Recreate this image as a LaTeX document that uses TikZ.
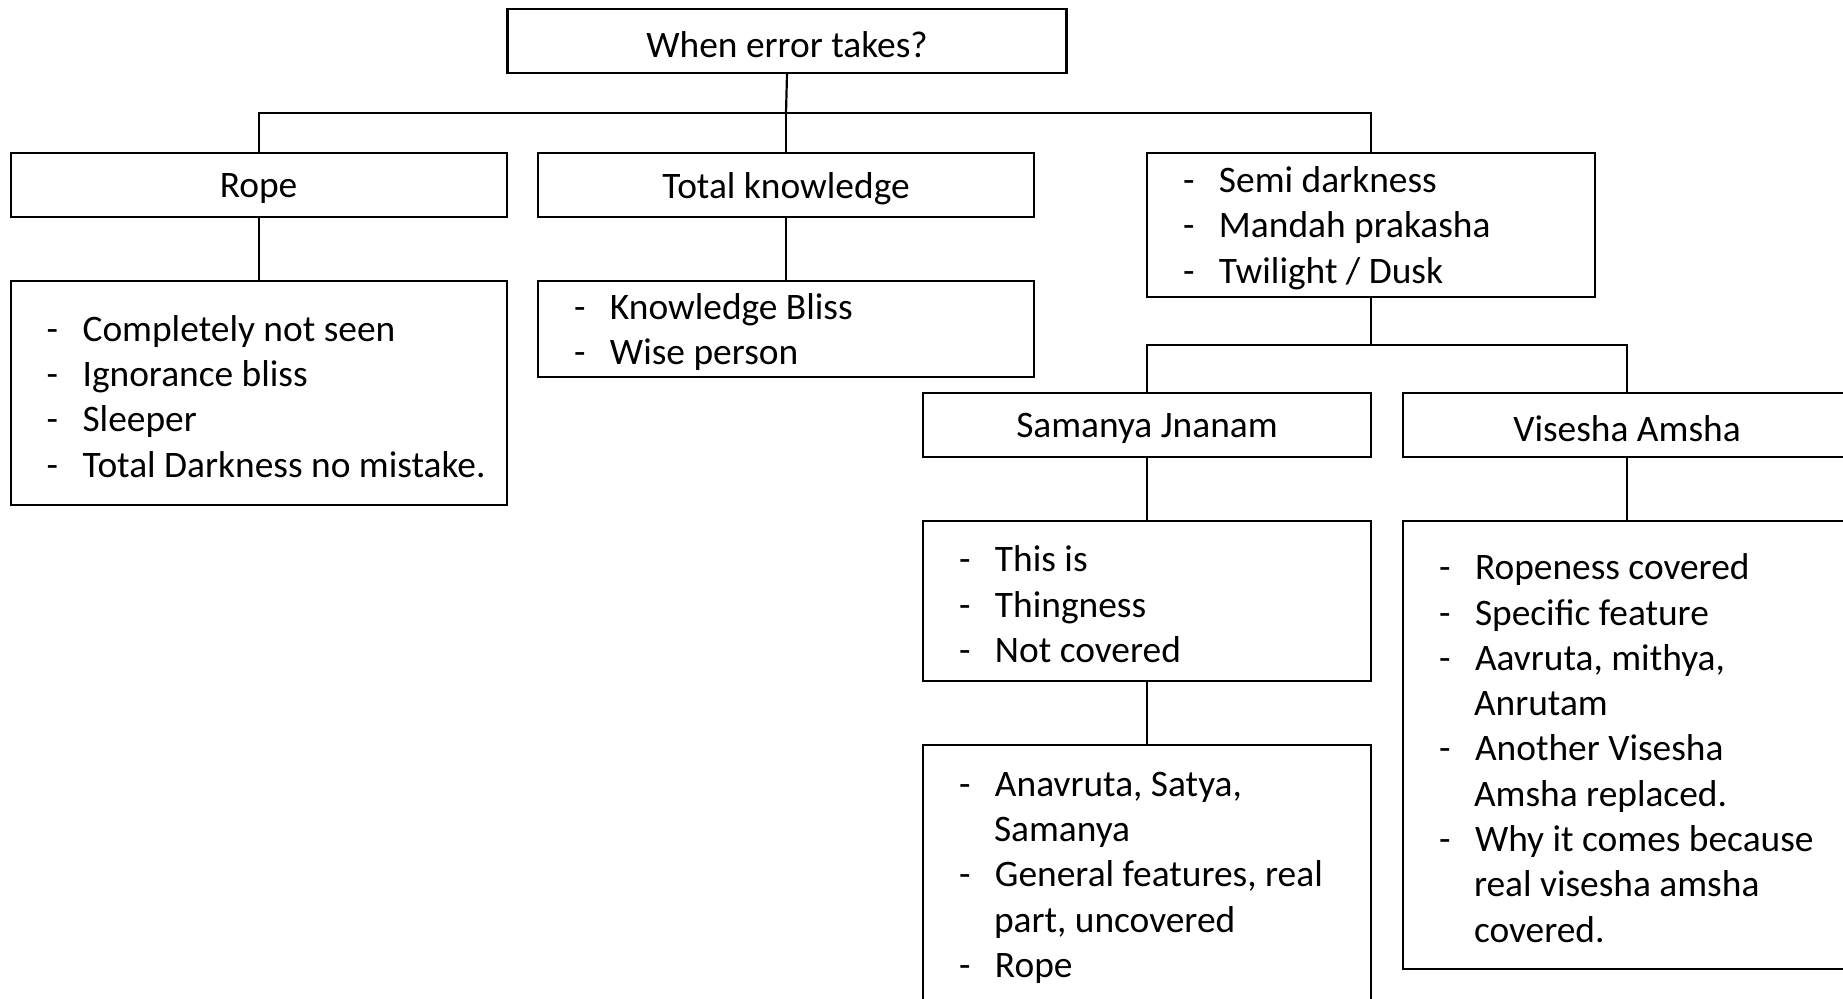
\documentclass[tikz,border=0pt]{standalone}
\usepackage{fontspec}
\setmainfont{Carlito}
\newcommand{\bodyfont}{\fontsize{37.4}{45.3}\selectfont}
% lower a box's ink a little without changing the size it reports
\newcommand{\sinkbox}[1]{\raisebox{-3.5pt}[\height][\depth]{#1}}
% one list entry: a dash, then the text; continuation lines hang under the text
\newcommand{\itm}[1]{\par\hangindent=35pt\hangafter=1\noindent\makebox[36pt][l]{-}#1}
% a list block, as wide as its box minus a 36pt margin each side
\newcommand{\itemlist}[2]{\sinkbox{\parbox{#1}{\bodyfont\hbadness=10000\hfuzz=200pt #2}}}
\begin{document}
\begin{tikzpicture}[x=1pt,y=-1pt,
  box/.style={draw=black, line width=2.2pt, inner sep=0pt, font=\bodyfont, fill=white},
  link/.style={draw=black, line width=2.2pt}]
\useasboundingbox (0,0) rectangle (1843,998);
\clip (0,0) rectangle (1843,998);

% top level
\node[box, minimum width=559pt, minimum height=64pt] (top) at (787,41) {\sinkbox{When error takes?}};

% second level
\node[box, minimum width=496pt, minimum height=64.6pt] (rope) at (258.6,185) {\sinkbox{Rope}};
\node[box, minimum width=496pt, minimum height=64.6pt] (tk) at (786,185) {\sinkbox{Total knowledge}};
\node[box, minimum width=448pt, minimum height=144pt] (semi) at (1371,224.7)
  {\itemlist{376pt}{\itm{Semi darkness}\itm{Mandah prakasha}\itm{Twilight / Dusk}}};

% lists under the first two
\node[box, minimum width=496pt, minimum height=224.3pt] (ropel) at (258.6,392.8)
  {\itemlist{424pt}{\itm{Completely not seen}\itm{Ignorance bliss}\itm{Sleeper}\itm{\mbox{Total Darkness no mistake.}}}};
\node[box, minimum width=496pt, minimum height=96pt] (tkl) at (786,328.7)
  {\itemlist{424pt}{\itm{Knowledge Bliss}\itm{Wise person}}};

% third level
\node[box, minimum width=448pt, minimum height=64pt] (sam) at (1147,425) {\sinkbox{Samanya Jnanam}};
\node[box, minimum width=448pt, minimum height=64pt] (vis) at (1627,425) {\sinkbox{Visesha Amsha}};

\node[box, minimum width=448pt, minimum height=160pt] (saml) at (1147,600.7)
  {\itemlist{376pt}{\itm{This is}\itm{Thingness}\itm{Not covered}}};
\node[box, minimum width=448pt, minimum height=448pt] (visl) at (1627,744.6)
  {\itemlist{376pt}{\itm{Ropeness covered}\itm{Specific feature}%
   \itm{\mbox{Aavruta, mithya,}\newline\mbox{Anrutam}}%
   \itm{\mbox{Another Visesha}\newline\mbox{Amsha replaced.}}%
   \itm{\mbox{Why it comes because}\newline\mbox{real visesha amsha}\newline\mbox{covered.}}}};
\node[box, minimum width=448pt, minimum height=259.4pt] (samb) at (1147,874.3)
  {\itemlist{376pt}{\itm{\mbox{Anavruta, Satya,}\newline\mbox{Samanya}}%
   \itm{\mbox{General features, real}\newline\mbox{part, uncovered}}\itm{Rope}}};

% connectors
\coordinate (busA) at (786,113);
\coordinate (busB) at (1371,345);
\draw[link] (top.south) -- (busA);
\draw[link] (busA) -| (rope.north);
\draw[link] (busA) -| (semi.north);
\draw[link] (busA) -- (tk.north);
\draw[link] (rope.south) -- (ropel.north);
\draw[link] (tk.south) -- (tkl.north);
\draw[link] (semi.south) -- (busB);
\draw[link] (busB) -| (sam.north);
\draw[link] (busB) -| (vis.north);
\draw[link] (sam.south) -- (saml.north);
\draw[link] (saml.south) -- (samb.north);
\draw[link] (vis.south) -- (visl.north);
\end{tikzpicture}
\end{document}
